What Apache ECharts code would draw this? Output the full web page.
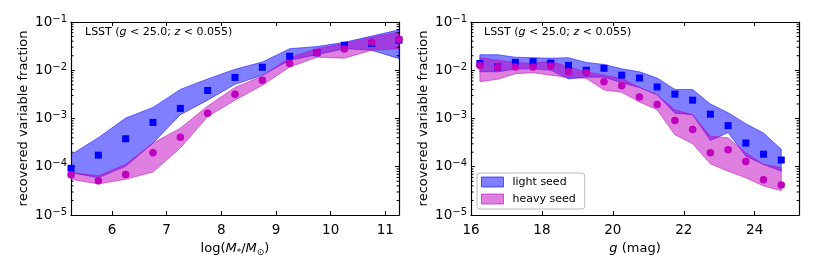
<!DOCTYPE html>
<html><head><meta charset="utf-8">
<script src="https://cdn.jsdelivr.net/npm/echarts@6/dist/echarts.min.js"></script>
<style>html,body{margin:0;padding:0;background:#fff}#c{width:814px;height:271px}</style>
</head><body><div id="c"></div>
<script>
// ---- Left panel: stellar mass bins ----
const massX = [5.25,5.75,6.25,6.75,7.25,7.75,8.25,8.75,9.25,9.75,10.25,10.75,11.25];
const lightMass    = [9.3e-5,1.74e-4,3.8e-4,8.3e-4,1.62e-3,3.8e-3,7.1e-3,1.15e-2,1.95e-2,2.3e-2,3.3e-2,3.6e-2,4.2e-2];
const lightMassHi  = [1.78e-4,4.0e-4,1.02e-3,1.7e-3,4.0e-3,6.6e-3,1.05e-2,1.48e-2,2.8e-2,3.1e-2,3.8e-2,5.1e-2,6.9e-2];
const lightMassLo  = [7.6e-5,5.9e-5,1.02e-4,3.1e-4,1.2e-3,2.4e-3,5.1e-3,7.9e-3,1.62e-2,2.1e-2,2.8e-2,2.6e-2,1.74e-2];
const heavyMass    = [6.8e-5,5.1e-5,6.9e-5,1.95e-4,4.1e-4,1.29e-3,3.2e-3,6.2e-3,1.38e-2,2.3e-2,2.75e-2,3.8e-2,4.4e-2];
const heavyMassHi  = [7.6e-5,6.5e-5,1.12e-4,3.1e-4,6.3e-4,1.82e-3,4.4e-3,7.6e-3,1.82e-2,2.8e-2,3.6e-2,4.8e-2,6.2e-2];
const heavyMassLo  = [5.5e-5,4.4e-5,5.5e-5,7.8e-5,2.45e-4,1.1e-3,2.4e-3,4.9e-3,1.17e-2,1.86e-2,1.78e-2,2.6e-2,2.8e-2];

// ---- Right panel: g magnitude bins ----
const magX = [16.25,16.75,17.25,17.75,18.25,18.75,19.25,19.75,20.25,20.75,21.25,21.75,22.25,22.75,23.25,23.75,24.25,24.75];
const lightMag   = [1.38e-2,1.17e-2,1.45e-2,1.51e-2,1.41e-2,1.26e-2,1.0e-2,1.1e-2,7.9e-3,6.9e-3,4.5e-3,3.2e-3,2.4e-3,1.23e-3,7.1e-4,3.1e-4,1.82e-4,1.38e-4];
const lightMagHi = [2.1e-2,2.1e-2,1.86e-2,1.82e-2,1.78e-2,1.82e-2,1.45e-2,1.32e-2,1.07e-2,9.3e-3,6.9e-3,4.0e-3,4.0e-3,2.0e-3,1.32e-3,7.8e-4,5.0e-4,2.3e-4];
const lightMagLo = [9.3e-3,9.3e-3,1.05e-2,1.07e-2,1.0e-2,6.6e-3,7.2e-3,7.2e-3,5.5e-3,4.4e-3,3.1e-3,1.29e-3,1.2e-3,3.5e-4,5.1e-4,1.66e-4,1.12e-4,8.1e-5];
const heavyMag   = [1.26e-2,1.15e-2,1.17e-2,1.17e-2,1.23e-2,9.3e-3,8.9e-3,5.8e-3,4.8e-3,2.8e-3,1.95e-3,9.1e-4,5.9e-4,1.95e-4,2.24e-4,1.29e-4,5.4e-5,4.2e-5];
const heavyMagHi = [1.82e-2,1.62e-2,1.45e-2,1.38e-2,1.55e-2,1.17e-2,9.3e-3,7.9e-3,6.8e-3,4.4e-3,3.1e-3,1.51e-3,1.2e-3,4.3e-4,4.0e-4,1.95e-4,1.12e-4,9.5e-5];
const heavyMagLo = [5.8e-3,6.5e-3,8.5e-3,8.9e-3,7.9e-3,7.1e-3,6.8e-3,3.9e-3,3.5e-3,2.2e-3,1.51e-3,4.6e-4,3.0e-4,1.15e-4,8.1e-5,5.9e-5,4.0e-5,3.2e-5];

const massTicks = [6,7,8,9,10,11];
const magTicks = [16,18,20,22,24];
const seriesNames = ['light seed','heavy seed'];
const panelLabel = 'LSST ({it|g} < 25.0; {it|z} < 0.055)';

const BLUE = '#0000ff', MAG = '#bf00bf';
const BLUE_FILL = 'rgba(0,0,255,0.5)', MAG_FILL = 'rgba(191,0,191,0.5)';
const FONT = 'DejaVu Sans';

const minorVals = [];
for (let e = -5; e <= -2; e++) for (let m = 2; m <= 9; m++) minorVals.push(+(m * Math.pow(10, e)).toPrecision(3));

function band(name, xs, lo, hi, fill, xi) {
  return {
    type: 'custom', name: name, xAxisIndex: xi, yAxisIndex: xi, clip: true, silent: true,
    data: xs.map((x, i) => [x, lo[i], hi[i]]),
    encode: {x: 0, y: [1, 2]},
    itemStyle: {color: fill},
    renderItem: function (params, api) {
      if (params.dataIndex !== 0) return null;
      const pts = [];
      for (let i = 0; i < xs.length; i++) pts.push(api.coord([xs[i], hi[i]]));
      for (let i = xs.length - 1; i >= 0; i--) pts.push(api.coord([xs[i], lo[i]]));
      return {type: 'polygon', shape: {points: pts}, style: {fill: fill, stroke: fill, lineWidth: 1}};
    }
  };
}
function pts(name, xs, ys, color, symbol, xi) {
  return {
    type: 'scatter', name: name, xAxisIndex: xi, yAxisIndex: xi, clip: true, silent: true,
    symbol: symbol, symbolSize: symbol === 'rect' ? 7 : 7.5,
    itemStyle: {color: color, opacity: 1},
    data: xs.map((x, i) => [x, ys[i]])
  };
}
function minor(xmin, xmax, xi) {
  return {
    type: 'custom', xAxisIndex: xi, yAxisIndex: xi, silent: true, clip: false,
    data: minorVals.map(v => [xmin, v]),
    renderItem: function (params, api) {
      const v = minorVals[params.dataIndex];
      const a = api.coord([xmin, v]), b = api.coord([xmax, v]);
      return {type: 'group', children: [
        {type: 'line', shape: {x1: a[0], y1: a[1], x2: a[0] + 2.5, y2: a[1]}, style: {stroke: '#000', lineWidth: 1}},
        {type: 'line', shape: {x1: b[0], y1: b[1], x2: b[0] - 2.5, y2: b[1]}, style: {stroke: '#000', lineWidth: 1}}
      ]};
    }
  };
}

function xAxes(gi, min, max, ticks, name) {
  const base = {type: 'value', gridIndex: gi, min: min, max: max, splitLine: {show: false},
    axisLine: {show: true, onZero: false, lineStyle: {color: '#000', width: 1.2}}};
  return [
    Object.assign({}, base, {position: 'bottom',
      axisTick: {inside: true, length: 4, customValues: ticks, lineStyle: {color: '#000'}},
      axisLabel: {customValues: ticks, color: '#000', fontSize: 13.5, fontFamily: FONT, margin: 8},
      name: name, nameLocation: 'middle', nameGap: 25,
      nameTextStyle: {color: '#000', fontSize: 13, fontFamily: FONT,
        rich: {it: {fontStyle: 'italic', fontSize: 13, fontFamily: FONT, color: '#000'},
               sub: {fontSize: 9, fontFamily: FONT, color: '#000', padding: [8, 0, 0, 0]}}}}),
    Object.assign({}, base, {position: 'top',
      axisTick: {inside: true, length: 4, customValues: ticks, lineStyle: {color: '#000'}},
      axisLabel: {show: false}})
  ];
}
function yAxes(gi) {
  const base = {type: 'log', logBase: 10, gridIndex: gi, min: 1e-5, max: 1e-1, splitLine: {show: false},
    axisLine: {show: true, onZero: false, lineStyle: {color: '#000', width: 1.2}},
    axisTick: {inside: true, length: 4, lineStyle: {color: '#000'}}};
  return [
    Object.assign({}, base, {position: 'left',
      axisLabel: {color: '#000', margin: 4, fontFamily: FONT,
        formatter: v => '{b|10}{s|\u2212' + (-Math.round(Math.log10(v))) + '}',
        rich: {b: {fontSize: 13.5, fontFamily: FONT, color: '#000', lineHeight: 16},
               s: {fontSize: 10, fontFamily: FONT, color: '#000', verticalAlign: 'top', lineHeight: 10}}},
      name: 'recovered variable fraction', nameLocation: 'middle', nameGap: 41,
      nameTextStyle: {color: '#000', fontSize: 13, fontFamily: FONT}}),
    Object.assign({}, base, {position: 'right', axisLabel: {show: false}})
  ];
}

const option = {
  animation: false,
  backgroundColor: '#fff',
  grid: [
    {left: 71, top: 22, width: 328, height: 193},
    {left: 471, top: 22, width: 328, height: 193}
  ],
  xAxis: [].concat(
    xAxes(0, 5.25, 11.25, massTicks, 'log({it|M}{sub|*}/{it|M}{sub|\u2299})'),
    xAxes(1, 16, 25.25, magTicks, '{it|g} (mag)')
  ),
  yAxis: [].concat(yAxes(0), yAxes(1)),
  legend: {
    left: 477, top: 173, orient: 'vertical',
    padding: [3, 9, 4, 4], itemGap: 5, itemWidth: 22, itemHeight: 10,
    borderColor: '#bbb', borderWidth: 1, borderRadius: 3, backgroundColor: '#fff',
    textStyle: {color: '#000', fontSize: 11, fontFamily: FONT, padding: [0, 0, 0, 4], lineHeight: 12},
    data: [
      {name: seriesNames[0], icon: 'rect', itemStyle: {color: BLUE_FILL, borderColor: 'rgba(0,0,255,0.6)', borderWidth: 1}},
      {name: seriesNames[1], icon: 'rect', itemStyle: {color: MAG_FILL, borderColor: 'rgba(191,0,191,0.6)', borderWidth: 1}}
    ],
    selectedMode: false
  },
  graphic: [
    {type: 'text', left: 85, top: 27, style: {text: panelLabel, fill: '#000', font: '11px ' + FONT,
      rich: {it: {fontStyle: 'italic', fontSize: 11, fontFamily: FONT, fill: '#000'}}}},
    {type: 'text', left: 484, top: 27, style: {text: panelLabel, fill: '#000', font: '11px ' + FONT,
      rich: {it: {fontStyle: 'italic', fontSize: 11, fontFamily: FONT, fill: '#000'}}}}
  ],
  series: [
    band(seriesNames[0], massX, lightMassLo, lightMassHi, BLUE_FILL, 0),
    band(seriesNames[1], massX, heavyMassLo, heavyMassHi, MAG_FILL, 0),
    pts('light seed median', massX, lightMass, BLUE, 'rect', 0),
    pts('heavy seed median', massX, heavyMass, MAG, 'circle', 0),
    minor(5.25, 11.25, 0),
    band(seriesNames[0], magX, lightMagLo, lightMagHi, BLUE_FILL, 2),
    band(seriesNames[1], magX, heavyMagLo, heavyMagHi, MAG_FILL, 2),
    pts('light seed median', magX, lightMag, BLUE, 'rect', 2),
    pts('heavy seed median', magX, heavyMag, MAG, 'circle', 2),
    minor(16, 25.25, 2)
  ]
};
echarts.init(document.getElementById('c'), null, {renderer: 'canvas'}).setOption(option);
</script></body></html>
